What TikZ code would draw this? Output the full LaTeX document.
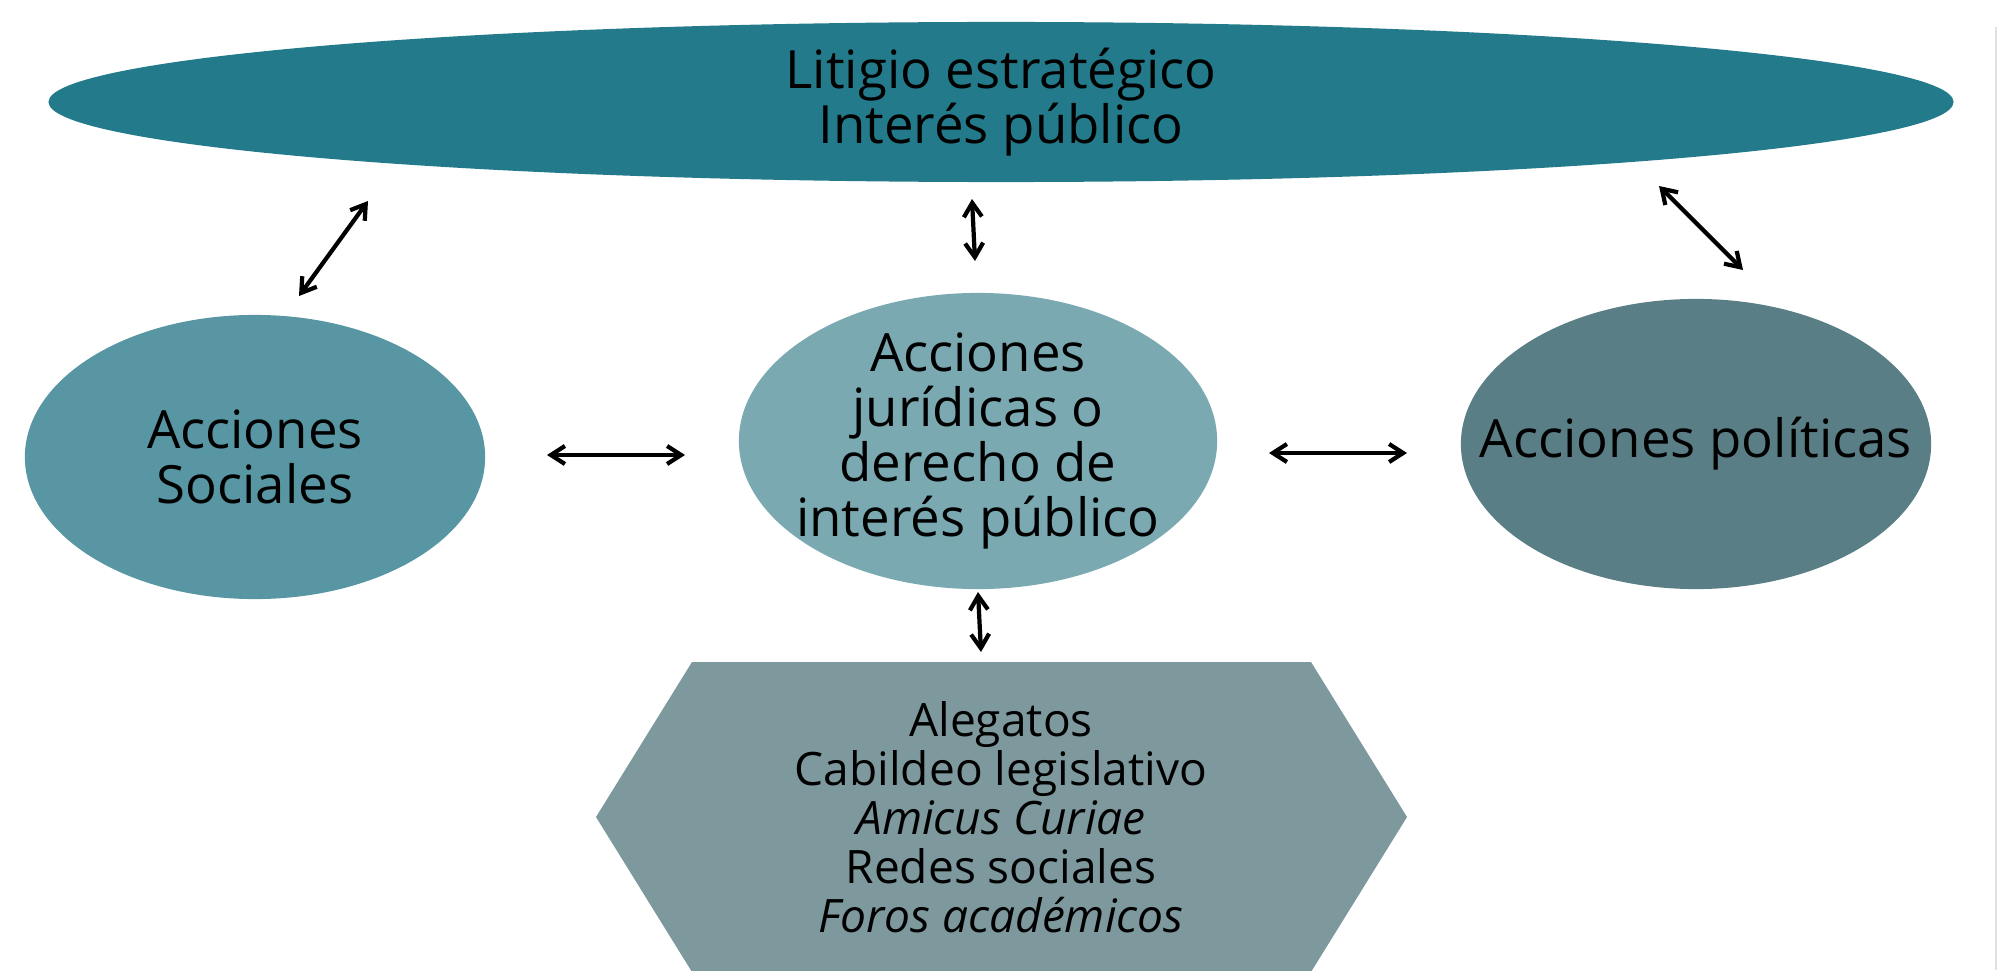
\documentclass[tikz,border=0pt]{standalone}
\usepackage{fontspec}
\setmainfont{Open Sans}
\usetikzlibrary{arrows.meta,shapes.geometric}
\definecolor{litigio}{HTML}{237A8A}
\definecolor{social}{HTML}{5796A2}
\definecolor{juridica}{HTML}{7AA9B2}
\definecolor{politica}{HTML}{5A7E85}
\definecolor{medios}{HTML}{7D999E}
\begin{document}
\begin{tikzpicture}[x=0.01cm,y=-0.01cm]
					\tikzstyle{burbuja}=[ellipse,inner sep=-1cm,align=center,font=\fontsize{15}{15.7}\selectfont]
					\tikzstyle{flecha}=[<->,>={Straight Barb[length=1.4mm,width=1.8mm]},line width=1.2pt]
					\useasboundingbox (0,0) rectangle (1998,970);
					\fill[white] (0,0) rectangle (1998,970);
					\draw[black!12,line width=0.6pt] (1996,27) -- (1996,970);
					\node[burbuja,fill=litigio,minimum width=19.04cm,minimum height=1.6cm] (lit) at (1001,102) {Litigio estratégico\\Interés público};
					\node[burbuja,fill=social,minimum width=4.6cm,minimum height=2.84cm] (soc) at (255,457) {Acciones\\Sociales};
					\node[burbuja,fill=juridica,minimum width=4.78cm,minimum height=2.96cm] (jur) at (978,441) {Acciones\\jurídicas o\\derecho de\\interés público};
					\node[burbuja,fill=politica,minimum width=4.7cm,minimum height=2.9cm] (pol) at (1696,444) {Acciones políticas};
					\fill[medios] (692,662) -- (1311,662) -- (1407,817) -- (1311,972) -- (692,972) -- (596,817) -- cycle;
					\node[align=center,font=\fontsize{13.1}{13.95}\selectfont] (hex) at (1001,817) {Alegatos\\Cabildeo legislativo\\\textit{Amicus Curiae}\\Redes sociales\\\textit{Foros académicos}};
					% extremos de las flechas
					\coordinate (s1) at (299,296);
					\coordinate (l1) at (368,201);
					\coordinate (j1) at (975,261);
					\coordinate (l2) at (972,199);
					\coordinate (p1) at (1743,270);
					\coordinate (l3) at (1659,186);
					\coordinate (s2) at (547,455);
					\coordinate (j2) at (685,455);
					\coordinate (j3) at (1269,453);
					\coordinate (p2) at (1407,453);
					\coordinate (j4) at (978,592);
					\coordinate (h1) at (981,652);
					\draw[flecha] (s1) -- (l1);
					\draw[flecha] (j1) -- (l2);
					\draw[flecha] (p1) -- (l3);
					\draw[flecha] (s2) -- (j2);
					\draw[flecha] (j3) -- (p2);
					\draw[flecha] (j4) -- (h1);
\end{tikzpicture}
\end{document}
